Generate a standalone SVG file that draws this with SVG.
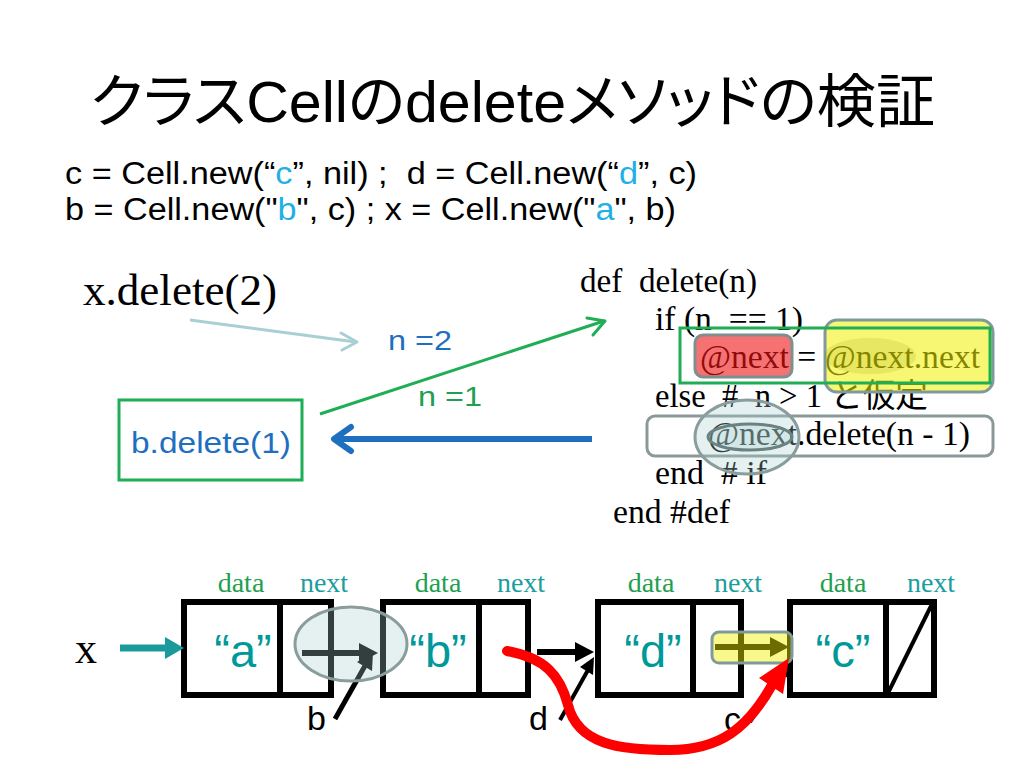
<svg xmlns="http://www.w3.org/2000/svg" width="1024" height="768" viewBox="0 0 1024 768">
<style>
.sans{font-family:"Liberation Sans","Noto Sans CJK JP",sans-serif}
.serif{font-family:"Liberation Serif","Noto Sans CJK JP",serif}
.title{font-family:"Liberation Sans","Noto Sans CJK JP",sans-serif;font-feature-settings:"palt" 1}
.code{font-family:"Liberation Serif","Noto Sans CJK JP",serif;font-size:33px;fill:#000}
.cell{fill:#fff;stroke:#000;stroke-width:6}
.div{stroke:#000;stroke-width:6}
.lbl-data{font-family:"Liberation Serif",serif;font-size:28px;fill:#1fa050;text-anchor:middle}
.lbl-next{font-family:"Liberation Serif",serif;font-size:28px;fill:#1a9e9e;text-anchor:middle}
.val{font-family:"Liberation Sans",sans-serif;font-size:47px;fill:#009999;text-anchor:middle}
.ptr{font-family:"Liberation Sans",sans-serif;font-size:34px;fill:#000}
.hl{fill:#a9cfcf;fill-opacity:0.3;stroke:#8a9c9c;stroke-width:3}
.cyan{fill:#1fb0e6}
</style>
<rect width="1024" height="768" fill="#fff"/>

<g id="title">
<text class="title" x="90" y="122" font-size="58" textLength="845" lengthAdjust="spacingAndGlyphs">クラスCellのdeleteメソッドの検証</text>
</g>

<g id="setup">
<text class="sans" x="65" y="184" font-size="31" textLength="632" lengthAdjust="spacingAndGlyphs" xml:space="preserve">c = Cell.new(“<tspan class="cyan">c</tspan>”, nil) ;  d = Cell.new(“<tspan class="cyan">d</tspan>”, c)</text>
<text class="sans" x="65" y="220" font-size="31" textLength="611" lengthAdjust="spacingAndGlyphs">b = Cell.new("<tspan class="cyan">b</tspan>", c) ; x = Cell.new("<tspan class="cyan">a</tspan>", b)</text>
</g>

<g id="call">
<text class="serif" x="83" y="305" font-size="45" textLength="194" lengthAdjust="spacingAndGlyphs">x.delete(2)</text>
</g>

<g id="n2"><text class="sans" x="388" y="350" font-size="27" fill="#1f6fc0" textLength="64" lengthAdjust="spacingAndGlyphs">n =2</text></g>
<g id="n1"><text class="sans" x="418" y="406" font-size="27" fill="#1fa050" textLength="64" lengthAdjust="spacingAndGlyphs">n =1</text></g>

<g id="bdelete">
<rect x="119" y="400" width="183" height="80" fill="none" stroke="#1fae55" stroke-width="3"/>
<text class="sans" x="131" y="453" font-size="30" fill="#1f6fc0" textLength="160" lengthAdjust="spacingAndGlyphs">b.delete(1)</text>
</g>

<g id="code">
<text class="code" x="580" y="292" xml:space="preserve" textLength="177" lengthAdjust="spacingAndGlyphs">def  delete(n)</text>
<text class="code" x="655" y="330" xml:space="preserve" textLength="148" lengthAdjust="spacingAndGlyphs">if (n  == 1)</text>
<text class="code" x="700" y="368" xml:space="preserve" textLength="280" lengthAdjust="spacingAndGlyphs">@next = @next.next</text>
<text class="code" x="655" y="407" xml:space="preserve" textLength="273" lengthAdjust="spacingAndGlyphs">else  #  n &gt; 1 と仮定</text>
<text class="code" x="708" y="445" xml:space="preserve" textLength="262" lengthAdjust="spacingAndGlyphs">@next.delete(n - 1)</text>
<text class="code" x="655" y="484" xml:space="preserve" textLength="112" lengthAdjust="spacingAndGlyphs">end  # if</text>
<text class="code" x="613" y="523" xml:space="preserve" textLength="117" lengthAdjust="spacingAndGlyphs">end #def</text>
</g>

<g id="highlights">
<rect x="695" y="335" width="97" height="42" rx="8" fill="#f01414" fill-opacity="0.6" stroke="#7f8f8f" stroke-width="3"/>
<rect x="825" y="320" width="168" height="72" rx="12" fill="#f0f000" fill-opacity="0.55" stroke="#7f9a9a" stroke-width="3"/>
<ellipse cx="870" cy="356" rx="46" ry="18" fill="#909000" fill-opacity="0.15"/>
<rect x="680" y="328" width="310" height="55" fill="none" stroke="#1fae55" stroke-width="3"/>
<rect x="647" y="416" width="346" height="40" rx="8" fill="none" stroke="#8a9a9a" stroke-width="3"/>
<ellipse class="hl" cx="747" cy="437" rx="52" ry="37"/>
<ellipse cx="750" cy="437" rx="42" ry="13" fill="#a9cfcf" fill-opacity="0.3" stroke="#6a8282" stroke-width="3"/>
</g>

<g id="connectors">
<line x1="190" y1="320" x2="356" y2="342" stroke="#a8d0d4" stroke-width="3"/>
<polyline points="341,333 357,342 342,350" fill="none" stroke="#a8d0d4" stroke-width="3" stroke-linecap="round" stroke-linejoin="round"/>
<line x1="320" y1="414" x2="604" y2="321" stroke="#1fae55" stroke-width="3"/>
<polyline points="587,318 605,321 593,335" fill="none" stroke="#1fae55" stroke-width="3" stroke-linecap="round" stroke-linejoin="round"/>
<line x1="592" y1="439" x2="336" y2="439" stroke="#1f6fc0" stroke-width="6"/>
<polyline points="351,427 334,439 351,451" fill="none" stroke="#1f6fc0" stroke-width="6" stroke-linecap="round" stroke-linejoin="round"/>
</g>

<g id="list-labels">
<text class="lbl-data" x="241" y="592">data</text><text class="lbl-next" x="324" y="592">next</text>
<text class="lbl-data" x="438" y="592">data</text><text class="lbl-next" x="521" y="592">next</text>
<text class="lbl-data" x="651" y="592">data</text><text class="lbl-next" x="738" y="592">next</text>
<text class="lbl-data" x="843" y="592">data</text><text class="lbl-next" x="931" y="592">next</text>
</g>

<g id="cell-a">
<rect class="cell" x="184" y="602" width="147" height="93"/>
<line class="div" x1="280" y1="602" x2="280" y2="695"/>
<text class="val" x="243" y="667">“a”</text>
</g>
<g id="cell-b">
<rect class="cell" x="383" y="602" width="145" height="93"/>
<line class="div" x1="479" y1="602" x2="479" y2="695"/>
<text class="val" x="438" y="667">“b”</text>
</g>
<g id="cell-d">
<rect class="cell" x="598" y="602" width="143" height="93"/>
<line class="div" x1="693" y1="602" x2="693" y2="695"/>
<text class="val" x="653" y="667">“d”</text>
</g>
<g id="cell-c">
<rect class="cell" x="790" y="602" width="144" height="93"/>
<line class="div" x1="886" y1="602" x2="886" y2="695"/>
<line x1="888" y1="693" x2="932" y2="604" stroke="#000" stroke-width="4"/>
<text class="val" x="843" y="667">“c”</text>
</g>

<g id="var-x"><text class="serif" x="75" y="663" font-size="44">x</text></g>
<g id="var-b"><text class="ptr" x="307" y="730">b</text></g>
<g id="var-d"><text class="ptr" x="529" y="730">d</text></g>
<g id="var-c"><text class="ptr" x="724" y="731">c</text></g>

<g id="list-connectors">
<line x1="120" y1="648" x2="168" y2="648" stroke="#1a9a9a" stroke-width="7"/>
<polygon points="165,637 184,648 165,659" fill="#1a9a9a"/>
<line x1="302" y1="653" x2="362" y2="653" stroke="#000" stroke-width="6"/>
<polygon points="359,643 378,653 359,663" fill="#000"/>
<line x1="335" y1="719" x2="366" y2="664" stroke="#000" stroke-width="5"/>
<polygon points="373,652 372,671 357,662" fill="#000"/>
<line x1="537" y1="652" x2="578" y2="652" stroke="#000" stroke-width="6"/>
<polygon points="575,642 594,652 575,662" fill="#000"/>
<line x1="560" y1="720" x2="588" y2="670" stroke="#000" stroke-width="4"/>
<polygon points="594,657 593,675 580,667" fill="#000"/>
<line x1="715" y1="647" x2="772" y2="647" stroke="#000" stroke-width="6"/>
<polygon points="770,637 789,647 770,657" fill="#000"/>
<line x1="750" y1="722" x2="782" y2="673" stroke="#000" stroke-width="4"/>
<polygon points="789,660 788,678 775,670" fill="#000"/>
<ellipse class="hl" cx="351" cy="644" rx="56" ry="37"/>
<rect x="712" y="632" width="80" height="31" rx="7" fill="#f0f000" fill-opacity="0.45" stroke="#7f9a9a" stroke-width="3"/>
<path d="M507,651 C545,658 560,675 568,705 C578,745 620,750 670,750 C720,750 748,728 772,685" fill="none" stroke="#ff0000" stroke-width="10" stroke-linecap="round"/>
<polygon points="789,658 783,694 759,678" fill="#ff0000"/>
</g>
</svg>
